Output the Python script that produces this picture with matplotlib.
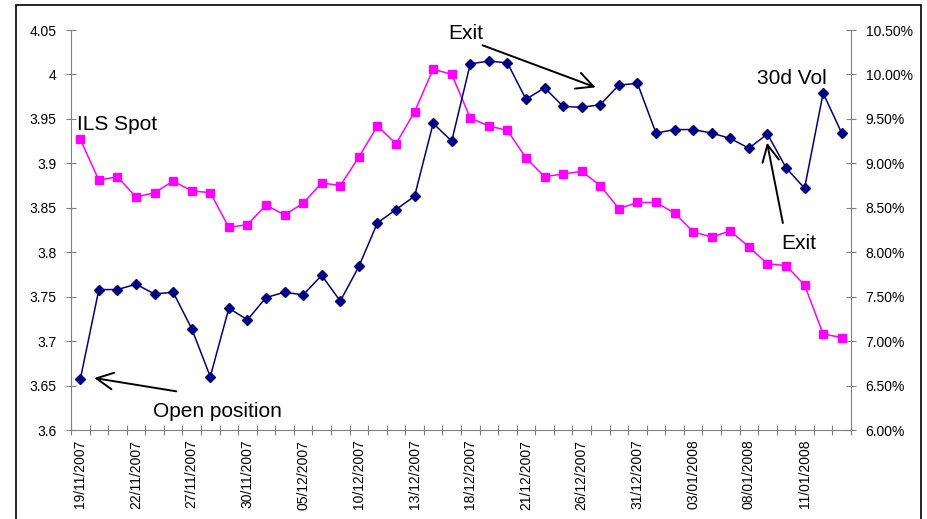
import numpy as np
import pandas as pd
import matplotlib
matplotlib.use("Agg")
import matplotlib.pyplot as plt
from matplotlib.patches import Rectangle
from matplotlib.ticker import FuncFormatter

plt.rcParams['font.family'] = ['Liberation Sans', 'DejaVu Sans']

# business days 19/11/2007 .. 15/01/2008
dates = pd.bdate_range('2007-11-19', '2008-01-15')
date_labels = [d.strftime('%d/%m/%Y') for d in dates]

# USD/ILS spot (left axis)
ils_spot = [3.927, 3.881, 3.885, 3.862, 3.867, 3.880, 3.869, 3.867, 3.828, 3.831,
            3.853, 3.842, 3.855, 3.878, 3.875, 3.907, 3.942, 3.922, 3.958, 4.006,
            4.000, 3.951, 3.942, 3.937, 3.906, 3.885, 3.888, 3.891, 3.875, 3.849,
            3.856, 3.856, 3.844, 3.823, 3.817, 3.824, 3.806, 3.787, 3.785, 3.763,
            3.708, 3.704]

# 30 day implied vol in % (right axis)
vol_30d = [6.57, 7.58, 7.58, 7.64, 7.53, 7.55, 7.14, 6.60, 7.37, 7.24,
           7.49, 7.55, 7.52, 7.74, 7.45, 7.84, 8.33, 8.48, 8.63, 9.45,
           9.25, 10.12, 10.15, 10.13, 9.72, 9.85, 9.64, 9.63, 9.66, 9.88,
           9.90, 9.34, 9.38, 9.38, 9.34, 9.28, 9.17, 9.33, 8.95, 8.72,
           9.79, 9.34]

open_idx = 0
exit_idx = 37

n = len(dates)
x = np.arange(n)

fig = plt.figure(figsize=(9.27, 5.19), dpi=100)
ax = fig.add_axes([71/927, 1 - 430/519, (851 - 71)/927, 400/519])
ax2 = ax.twinx()

ax.plot(x, ils_spot, color='#FF00FF', lw=1.1, marker='s', ms=5.5,
        markeredgecolor='#FF00FF', zorder=3)
ax2.plot(x, vol_30d, color='#000080', lw=1.1, marker='D', ms=5,
         markeredgecolor='#000080', zorder=3)

ax.set_xlim(-0.5, n - 0.5)
ax.set_ylim(3.6, 4.05)
ax2.set_ylim(6.0, 10.5)
ax.set_yticks(np.arange(3.6, 4.051, 0.05))
ax2.set_yticks(np.arange(6.0, 10.51, 0.5))
ax.yaxis.set_major_formatter(FuncFormatter(lambda v, p: f'{v:.2f}'.rstrip('0').rstrip('.')))
ax2.yaxis.set_major_formatter(FuncFormatter(lambda v, p: f'{v:.2f}%'))

# category boundaries get the tick marks, labels sit on every 3rd point
ax.set_xticks(np.arange(-0.5, n, 1.0))
ax.set_xticklabels([])
ax.set_xticks(x[::3], minor=True)
ax.set_xticklabels(date_labels[::3], minor=True, rotation=90)
ax.tick_params(axis='x', which='major', direction='inout', length=7, color='#808080')
ax.tick_params(axis='x', which='minor', length=0, pad=7, labelsize=10)

ax.tick_params(axis='y', direction='inout', length=7, color='#808080', pad=7, labelsize=10)
ax2.tick_params(axis='y', direction='inout', length=7, color='#808080', pad=7, labelsize=10)

for a in (ax, ax2):
    a.spines['top'].set_visible(False)
    for s in ('left', 'right', 'bottom'):
        a.spines[s].set_color('#808080')
ax.spines['right'].set_visible(False)
ax2.spines['left'].set_visible(False)
ax2.spines['bottom'].set_visible(False)

# text labels and arrows (left-axis data coords)
txt = dict(fontsize=15, color='black', va='center', ha='left')
arrow = dict(arrowstyle='->', color='black', lw=1.4, mutation_scale=30)
ax2.text(-0.18, 3.944, 'ILS Spot', transform=ax.transData, **txt)
ax2.text(36.46, 3.995, '30d Vol', transform=ax.transData, **txt)

ax2.annotate('', xy=(open_idx + 0.6, 3.659), xytext=(5.32, 3.643),
             xycoords=ax.transData, textcoords=ax.transData, arrowprops=arrow)
ax2.text(3.9, 3.6206, 'Open position', transform=ax.transData, **txt)

ax2.annotate('', xy=(27.89, 3.9844), xytext=(21.52, 4.0339),
             xycoords=ax.transData, textcoords=ax.transData, arrowprops=arrow)
ax2.text(19.8, 4.0463, 'Exit', transform=ax.transData, **txt)

ax2.annotate('', xy=(exit_idx - 0.05, 3.9263), xytext=(37.86, 3.8298),
             xycoords=ax.transData, textcoords=ax.transData, arrowprops=arrow)
ax2.text(37.72, 3.8093, 'Exit', transform=ax.transData, **txt)

# outer chart border
fig.patches.append(Rectangle((16/927, -0.02), (921 - 16)/927, 1.02 - 5/519,
                             transform=fig.transFigure, fill=False,
                             edgecolor='black', lw=1.2))

fig.savefig('out.png', dpi=100)
